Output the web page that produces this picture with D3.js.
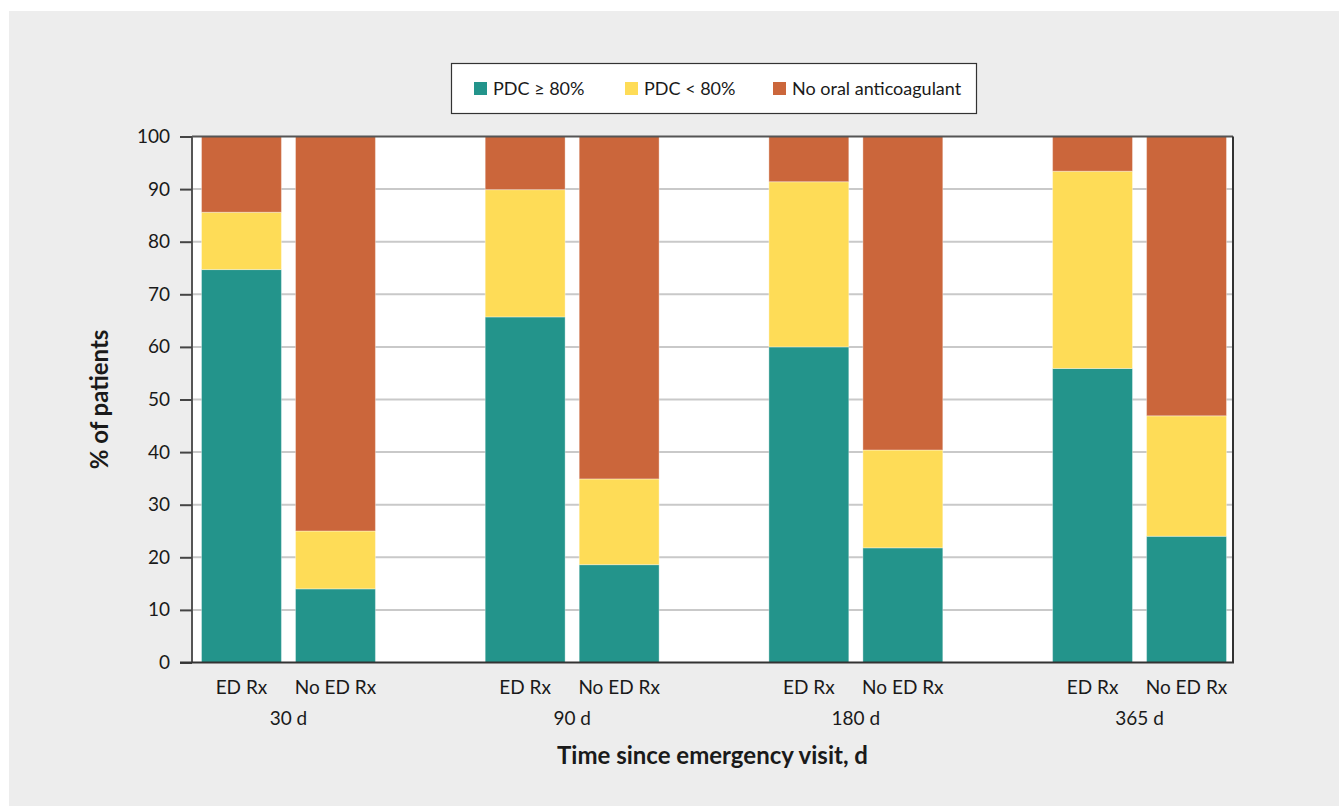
<!DOCTYPE html>
<html>
<head>
<meta charset="utf-8">
<script src="https://cdn.jsdelivr.net/npm/d3@7"></script>
<style>
  html, body { margin: 0; padding: 0; background: #ffffff; }
  svg { display: block; }
  text { font-family: Lato, "Open Sans", sans-serif; fill: #1a1a1a; }
</style>
</head>
<body>
<svg id="chart" width="1339" height="806"></svg>
<script>
// ---- data ----
const timepoints = ["30 d", "90 d", "180 d", "365 d"];
const groups = ["ED Rx", "No ED Rx"];
const seriesNames = ["PDC ≥ 80%", "PDC < 80%", "No oral anticoagulant"];
// per timepoint: [ED Rx, No ED Rx]
const pdcHigh = [[74.7, 14.0], [65.7, 18.6], [60.0, 21.8], [55.9, 24.0]];
const pdcLow  = [[10.9, 11.0], [24.2, 16.3], [31.4, 18.6], [37.5, 22.9]];
const noOAC   = [[14.4, 75.0], [10.1, 65.1], [8.6, 59.6], [6.6, 53.1]];
const yTicks = [0, 10, 20, 30, 40, 50, 60, 70, 80, 90, 100];
const colors = ["#23948b", "#fedc57", "#cb663b"];

// ---- build rows ----
const rows = [];
timepoints.forEach((t, i) => {
  groups.forEach((g, j) => {
    rows.push({ t, g, "PDC ≥ 80%": pdcHigh[i][j], "PDC < 80%": pdcLow[i][j], "No oral anticoagulant": noOAC[i][j] });
  });
});

const svg = d3.select("#chart");
const W = 1339, H = 806;
const plot = { left: 192, right: 1233, top: 136.5, bottom: 662.5 };

// background panel
svg.append("rect").attr("x", 9).attr("y", 11).attr("width", W - 9).attr("height", H - 11).attr("fill", "#ededed");
svg.append("rect").attr("x", plot.left).attr("y", plot.top)
  .attr("width", plot.right - plot.left).attr("height", plot.bottom - plot.top).attr("fill", "#ffffff");

const y = d3.scaleLinear().domain([0, 100]).range([plot.bottom, plot.top]);
const x0 = d3.scalePoint().domain(timepoints).range([plot.left + 2, plot.right + 1]).padding(0.333);
const x1 = d3.scaleBand().domain(groups).range([-94, 94]).paddingInner(0.15).paddingOuter(0.075);

// gridlines
svg.append("g").selectAll("line").data(yTicks.filter(d => d > 0 && d < 100)).join("line")
  .attr("x1", plot.left).attr("x2", plot.right)
  .attr("y1", d => y(d)).attr("y2", d => y(d))
  .attr("stroke", "#c9c9c9").attr("stroke-width", 2);

// stacked bars
const stack = d3.stack().keys(seriesNames);
const stacked = stack(rows);
const gBars = svg.append("g");
stacked.forEach((layer, k) => {
  gBars.append("g").selectAll("rect").data(layer).join("rect")
    .attr("x", d => x0(d.data.t) + x1(d.data.g))
    .attr("width", x1.bandwidth())
    .attr("y", d => y(d[1]))
    .attr("height", d => y(d[0]) - y(d[1]))
    .attr("fill", colors[k])
    .attr("stroke", "rgba(255,255,255,0.35)")
    .attr("stroke-width", 1);
});

// frame: top and right
svg.append("line").attr("x1", plot.left).attr("x2", plot.right).attr("y1", plot.top).attr("y2", plot.top)
  .attr("stroke", "#555").attr("stroke-width", 2);
svg.append("line").attr("x1", plot.right).attr("x2", plot.right).attr("y1", plot.top).attr("y2", plot.bottom)
  .attr("stroke", "#333").attr("stroke-width", 2);

// y axis
const yAxis = d3.axisLeft(y).tickValues(yTicks).tickSize(12).tickPadding(10);
const gy = svg.append("g").attr("transform", `translate(${plot.left},0)`).call(yAxis);
gy.select(".domain").attr("stroke", "#555").attr("stroke-width", 2).attr("d", `M0,${plot.top}V${plot.bottom}`);
gy.selectAll(".tick line").attr("stroke", "#444").attr("stroke-width", 2);
gy.selectAll(".tick text").attr("font-size", 19).attr("fill", "#1a1a1a").style("font-family", "Lato, sans-serif");

// x axis baseline
svg.append("line").attr("x1", 180).attr("x2", plot.right + 1).attr("y1", plot.bottom).attr("y2", plot.bottom)
  .attr("stroke", "#333").attr("stroke-width", 2);

// group labels
const gx = svg.append("g");
rows.forEach(r => {
  gx.append("text")
    .attr("x", x0(r.t) + x1(r.g) + x1.bandwidth() / 2)
    .attr("y", 694)
    .attr("text-anchor", "middle").attr("font-size", 19)
    .text(r.g);
});
timepoints.forEach(t => {
  gx.append("text").attr("x", x0(t)).attr("y", 725)
    .attr("text-anchor", "middle").attr("font-size", 19).text(t);
});

// axis titles
svg.append("text").attr("x", (plot.left + plot.right) / 2).attr("y", 764)
  .attr("text-anchor", "middle").attr("font-size", 24).attr("font-weight", "bold").text("Time since emergency visit, d");
svg.append("text").attr("transform", `translate(108,${(plot.top + plot.bottom) / 2}) rotate(-90)`)
  .attr("text-anchor", "middle").attr("font-size", 24).attr("font-weight", "bold").text("% of patients");

// legend
const lg = svg.append("g");
lg.append("rect").attr("x", 451.5).attr("y", 63.5).attr("width", 525).attr("height", 50)
  .attr("fill", "#ffffff").attr("stroke", "#333").attr("stroke-width", 1.2);
const legX = [474, 625, 773];
seriesNames.forEach((s, k) => {
  lg.append("rect").attr("x", legX[k]).attr("y", 82).attr("width", 13).attr("height", 13).attr("fill", colors[k]);
  lg.append("text").attr("x", legX[k] + 19).attr("y", 95).attr("font-size", 18).text(s);
});
</script>
</body>
</html>
